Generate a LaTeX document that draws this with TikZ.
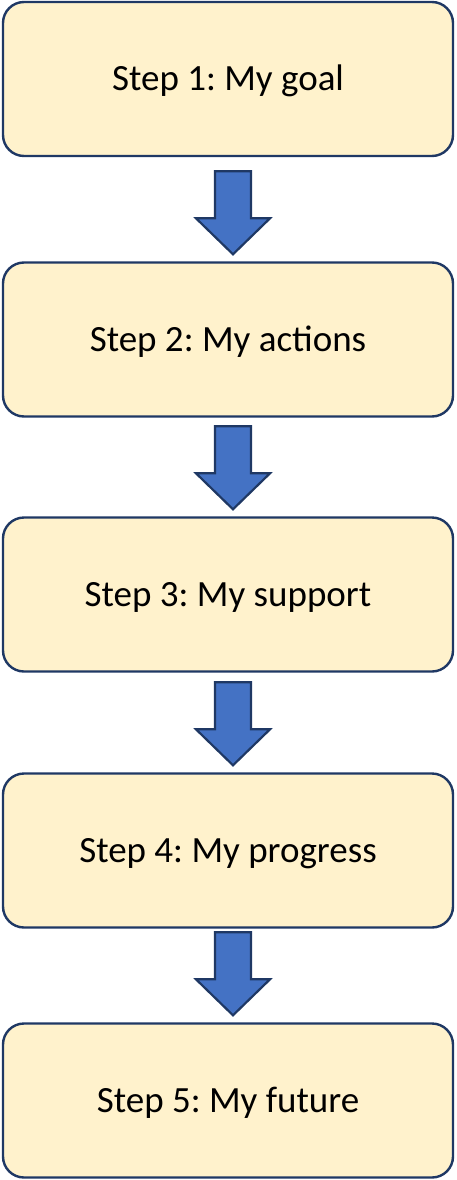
\documentclass[tikz,border=0pt]{standalone}
\usepackage{fontspec}
\setmainfont{Carlito}
\frenchspacing
\usetikzlibrary{calc}
\definecolor{stepfill}{HTML}{FFF2CC}
\definecolor{stepline}{HTML}{1F3864}
\definecolor{arrowfill}{HTML}{4472C4}
\tikzset{
  stepbox/.style={rectangle,rounded corners=21pt,fill=stepfill,draw=stepline,
    line width=2.4pt,minimum width=450pt,minimum height=154pt,
    font=\fontsize{37}{44}\selectfont,text height=23.8pt,text depth=0pt},
  blockarrow/.style={fill=arrowfill,draw=stepline,line width=2.2pt,line join=miter},
}

\begin{document}
\begin{tikzpicture}[x=1pt,y=1pt]
    \useasboundingbox (0,0) rectangle (456,-1180);

    \foreach \i/\y/\t in {1/-79/My goal,2/-339.5/My actions,3/-594.5/My support,
                          4/-850.5/My progress,5/-1100.5/My future}
    {
      \node [stepbox] (s\i) at (228,\y) {Step \i: \t} ;
    }

    \foreach \i [count=\j from 2] in {1,...,4}
    {
      \draw [blockarrow] ($(s\j.north)+(5,7)$) -- ++(-37,36) -- ++(19,0)
        -- ++(0,47) -- ++(36,0) -- ++(0,-47) -- ++(19,0) -- cycle ;
    }
\end{tikzpicture}
\end{document}
